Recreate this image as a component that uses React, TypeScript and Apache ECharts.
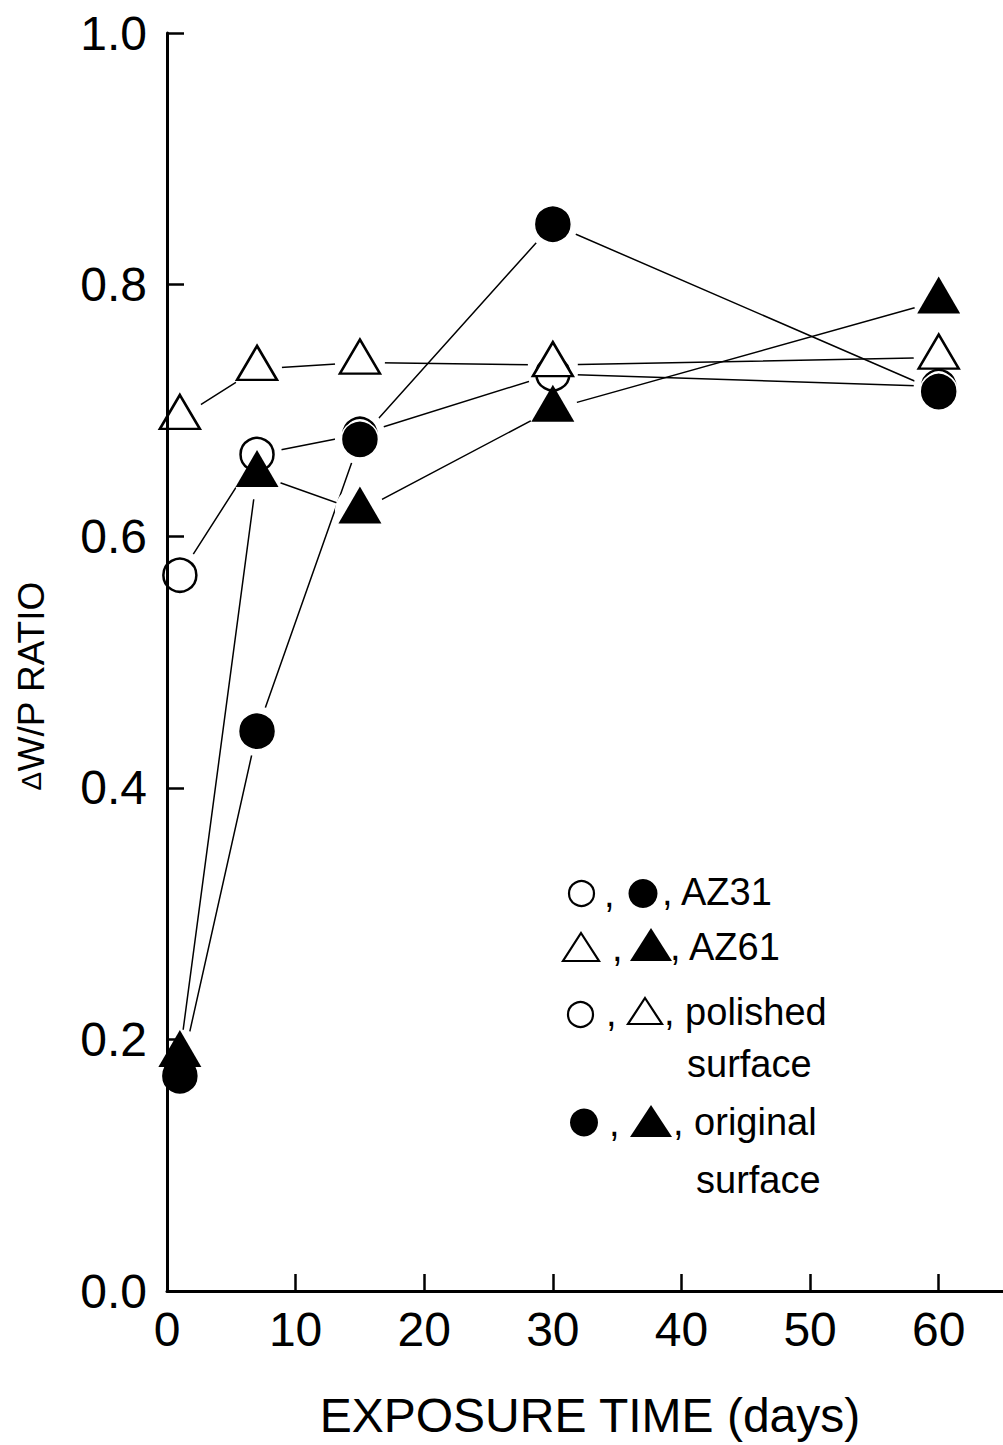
import React, { useEffect, useRef } from "react";
import * as echarts from "echarts";

const days = [1, 7, 15, 30, 60];
const az31Polished = [0.569, 0.665, 0.681, 0.729, 0.719];
const az31Original = [0.171, 0.445, 0.677, 0.848, 0.715];
const az61Polished = [0.694, 0.733, 0.738, 0.736, 0.742];
const az61Original = [0.188, 0.649, 0.62, 0.701, 0.787];

const xTickLabels = [0, 10, 20, 30, 40, 50, 60];
const xAxisTitle = "EXPOSURE TIME (days)";
const yAxisTitle = "W/P RATIO";

const FONT = '"Liberation Sans", Arial, Helvetica, sans-serif';

function pts(vals: number[]) {
  return days.map((d, i) => [d, vals[i]]);
}

export default function App() {
  const ref = useRef<HTMLDivElement>(null);
  useEffect(() => {
    if (!ref.current) return;
    const chart = echarts.init(ref.current, undefined, { renderer: "svg" });

    const all = [az31Polished, az31Original, az61Polished, az61Original];
    const lineSeries = all.map((v) => ({
      type: "line",
      data: pts(v),
      symbol: "none",
      showSymbol: false,
      lineStyle: { color: "#000", width: 1.5, opacity: 1 },
      z: 2,
      silent: true,
    }));
    const haloSeries = all.map((v) => ({
      type: "scatter",
      data: pts(v),
      symbol: "circle",
      symbolSize: 50,
      itemStyle: { color: "#fff", opacity: 1 },
      z: 3,
      silent: true,
    }));
    const markerSeries = [
      {
        type: "scatter",
        data: pts(az31Polished),
        symbol: "circle",
        symbolSize: 33,
        itemStyle: { color: "#fff", borderColor: "#000", borderWidth: 2.5, opacity: 1 },
        z: 4,
      },
      {
        type: "scatter",
        data: pts(az31Original),
        symbol: "circle",
        symbolSize: 37,
        itemStyle: { color: "#000", borderColor: "#fff", borderWidth: 1.5, opacity: 1 },
        z: 5,
      },
      {
        type: "scatter",
        data: pts(az61Polished),
        symbol: "triangle",
        symbolSize: [40, 34],
        symbolOffset: [0, -6],
        itemStyle: { color: "#fff", borderColor: "#000", borderWidth: 2.5, opacity: 1 },
        z: 6,
      },
      {
        type: "scatter",
        data: pts(az61Original),
        symbol: "triangle",
        symbolSize: [43, 37],
        symbolOffset: [0, -6],
        itemStyle: { color: "#000", opacity: 1 },
        z: 7,
      },
    ];

    const txt = (x: number, y: number, text: string, size = 38) => ({
      type: "text",
      x,
      y,
      z: 20,
      style: {
        text,
        font: `${size}px ${FONT}`,
        fill: "#000",
        textAlign: "left",
        align: "left",
        textVerticalAlign: "middle",
        verticalAlign: "middle",
      },
    });
    const circ = (cx: number, cy: number, r: number, filled: boolean) => ({
      type: "circle",
      z: 20,
      shape: { cx, cy, r },
      style: filled
        ? { fill: "#000" }
        : { fill: "#fff", stroke: "#000", lineWidth: 2.2 },
    });
    const tri = (x0: number, x1: number, y0: number, y1: number, filled: boolean) => ({
      type: "polygon",
      z: 20,
      shape: { points: [[(x0 + x1) / 2, y0], [x1, y1], [x0, y1]] },
      style: filled
        ? { fill: "#000" }
        : { fill: "#fff", stroke: "#000", lineWidth: 2.2, lineJoin: "miter" },
    });

    const legend = [
      circ(581.5, 893.5, 12.5, false),
      txt(604, 894, ","),
      circ(643, 893.5, 14.5, true),
      txt(662, 892, ", AZ31"),

      tri(563, 599, 933, 961, false),
      txt(612, 948, ","),
      tri(630, 672, 928, 961, true),
      txt(670, 947, ", AZ61"),

      circ(580.5, 1014.5, 12.5, false),
      txt(606, 1013, ","),
      tri(628, 662, 998, 1024, false),
      txt(664, 1012, ", polished"),
      txt(687, 1064, "surface"),

      circ(584, 1122.5, 14, true),
      txt(609, 1123, ","),
      tri(630, 672, 1105, 1137, true),
      txt(673, 1122, ", original"),
      txt(696, 1180, "surface"),
    ];

    chart.setOption({
      animation: false,
      grid: { left: 167, top: 33, width: 843, height: 1258, containLabel: false },
      xAxis: {
        type: "value",
        min: 0,
        max: 65,
        interval: 10,
        z: 10,
        axisLine: { show: true, onZero: false, lineStyle: { color: "#000", width: 3 } },
        axisTick: { show: true, inside: true, length: 17, lineStyle: { color: "#000", width: 2.5 } },
        axisLabel: {
          margin: 14,
          fontSize: 48,
          fontFamily: FONT,
          color: "#000",
          showMaxLabel: false,
          formatter: (v: number) => (xTickLabels.includes(v) ? String(v) : ""),
        },
        splitLine: { show: false },
      },
      yAxis: {
        type: "value",
        min: 0,
        max: 1,
        interval: 0.2,
        z: 10,
        axisLine: { show: true, lineStyle: { color: "#000", width: 3 } },
        axisTick: { show: true, inside: true, length: 17, lineStyle: { color: "#000", width: 2.5 } },
        axisLabel: {
          margin: 20,
          fontSize: 48,
          fontFamily: FONT,
          color: "#000",
          formatter: (v: number) => v.toFixed(1),
        },
        splitLine: { show: false },
      },
      graphic: [
        {
          type: "text",
          x: 590,
          y: 1415,
          z: 20,
          style: {
            text: xAxisTitle,
            font: `48px ${FONT}`,
            fill: "#000",
            textAlign: "center",
            align: "center",
            textVerticalAlign: "middle",
            verticalAlign: "middle",
          },
        },
        {
          type: "text",
          x: 31,
          y: 686,
          rotation: Math.PI / 2,
          z: 20,
          style: {
            text: "{d|Δ}" + yAxisTitle,
            font: `37px ${FONT}`,
            fill: "#000",
            textAlign: "center",
            align: "center",
            textVerticalAlign: "middle",
            verticalAlign: "middle",
            rich: { d: { fontSize: 28, fontFamily: FONT, fill: "#000" } },
          },
        },
        ...legend,
      ],
      series: [...lineSeries, ...haloSeries, ...markerSeries],
    } as any);

    return () => chart.dispose();
  }, []);

  return (
    <div
      ref={ref}
      style={{ position: "fixed", left: 0, top: 0, width: 1003, height: 1445, background: "#fff" }}
    />
  );
}
